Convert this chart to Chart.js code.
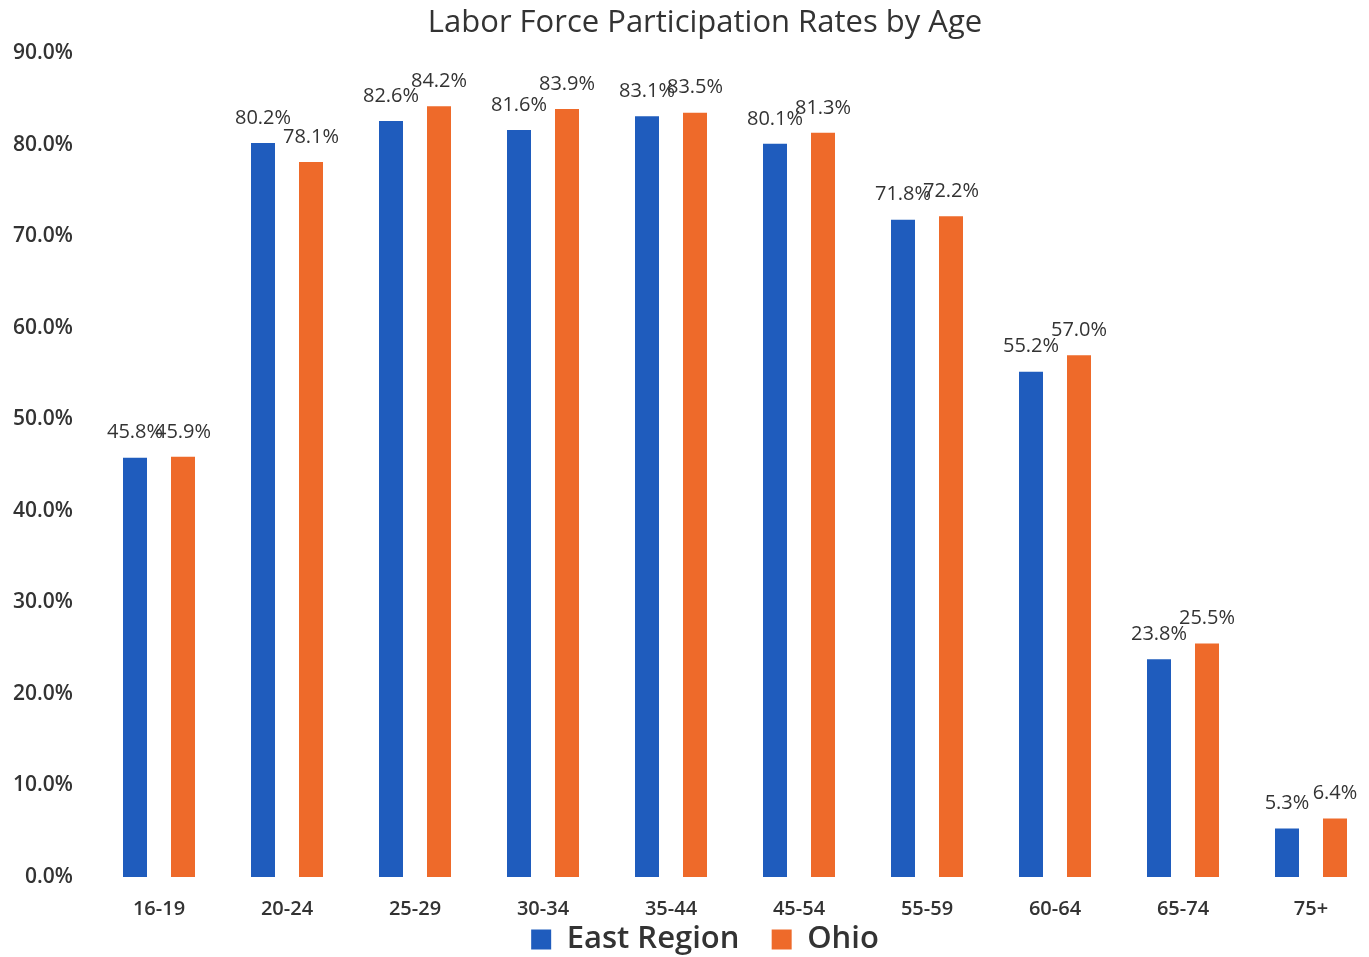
<!DOCTYPE html>
<html>
<head>
    <script src="https://cdn.jsdelivr.net/npm/chart.js"></script>
    <style>
        html, body { margin: 0; padding: 0; background: #fff; overflow: hidden; }
        #wrap { width: 1410px; height: 957px; }
    </style>
    <script>
        const ageGroups = ['16-19', '20-24', '25-29', '30-34', '35-44', '45-54', '55-59', '60-64', '65-74', '75+'];
        const eastRegion = [45.8, 80.2, 82.6, 81.6, 83.1, 80.1, 71.8, 55.2, 23.8, 5.3];
        const ohio = [45.9, 78.1, 84.2, 83.9, 83.5, 81.3, 72.2, 57.0, 25.5, 6.4];
        const yTicks = [0, 10, 20, 30, 40, 50, 60, 70, 80, 90];

        // draws the value above each bar
        const barLabels = {
            id: 'barLabels',
            afterDatasetsDraw(chart) {
                const ctx = chart.ctx;
                ctx.save();
                ctx.font = '20px "Open Sans"';
                ctx.fillStyle = '#333';
                ctx.textAlign = 'center';
                ctx.textBaseline = 'middle';
                chart.data.datasets.forEach((ds, i) => {
                    chart.getDatasetMeta(i).data.forEach((bar, j) => {
                        ctx.fillText(ds.data[j].toFixed(1) + '%', bar.x, bar.y - 25);
                    });
                });
                ctx.restore();
            }
        };

        window.onload = function () {
            Chart.defaults.font.family = '"Open Sans", sans-serif';
            Chart.defaults.color = '#333';

            new Chart(document.getElementById('lfpChart'), {
                type: 'bar',
                data: {
                    labels: ageGroups,
                    datasets: [{
                        label: 'East Region',
                        data: eastRegion,
                        backgroundColor: '#1f5cbd',
                        categoryPercentage: 0.75,
                        barPercentage: 0.5
                    }, {
                        label: 'Ohio',
                        data: ohio,
                        backgroundColor: '#ee6a2a',
                        categoryPercentage: 0.75,
                        barPercentage: 0.5
                    }]
                },
                options: {
                    responsive: false,
                    animation: false,
                    layout: { padding: { left: 0, right: 0, top: 0, bottom: -8 } },
                    plugins: {
                        title: {
                            display: true,
                            text: 'Labor Force Participation Rates by Age',
                            font: { size: 31, weight: 'normal' },
                            color: '#333',
                            padding: { top: 5, bottom: 11 }
                        },
                        legend: {
                            position: 'bottom',
                            labels: {
                                boxWidth: 20,
                                boxHeight: 20,
                                padding: 0,
                                font: { size: 31, weight: '600' },
                                color: '#333',
                                generateLabels(chart) {
                                    const items = Chart.defaults.plugins.legend.labels.generateLabels(chart);
                                    items[0].text += '    ';
                                    return items;
                                }
                            }
                        },
                        tooltip: { enabled: false }
                    },
                    scales: {
                        x: {
                            afterFit(scale) { scale.height -= 9; },
                            grid: { display: false },
                            border: { display: false },
                            ticks: {
                                font: { size: 20, weight: '600' },
                                color: '#333',
                                padding: 12
                            }
                        },
                        y: {
                            min: 0,
                            max: 90,
                            afterFit(scale) { scale.width = 95; },
                            afterBuildTicks(scale) { scale.ticks = yTicks.map(v => ({ value: v })); },
                            grid: { display: false },
                            border: { display: false },
                            ticks: {
                                font: { size: 21, weight: '600' },
                                color: '#333',
                                padding: 14,
                                callback: v => v.toFixed(1) + '%'
                            }
                        },
                        // empty right-hand spacer so the plot stops short of the edge
                        yRight: {
                            position: 'right',
                            afterFit(scale) { scale.width = 35; },
                            grid: { display: false },
                            border: { display: false },
                            ticks: { display: false }
                        }
                    }
                },
                plugins: [barLabels]
            });
        };
    </script>
</head>
<body>
    <div id="wrap">
        <canvas id="lfpChart" width="1410" height="957"></canvas>
    </div>
</body>
</html>
